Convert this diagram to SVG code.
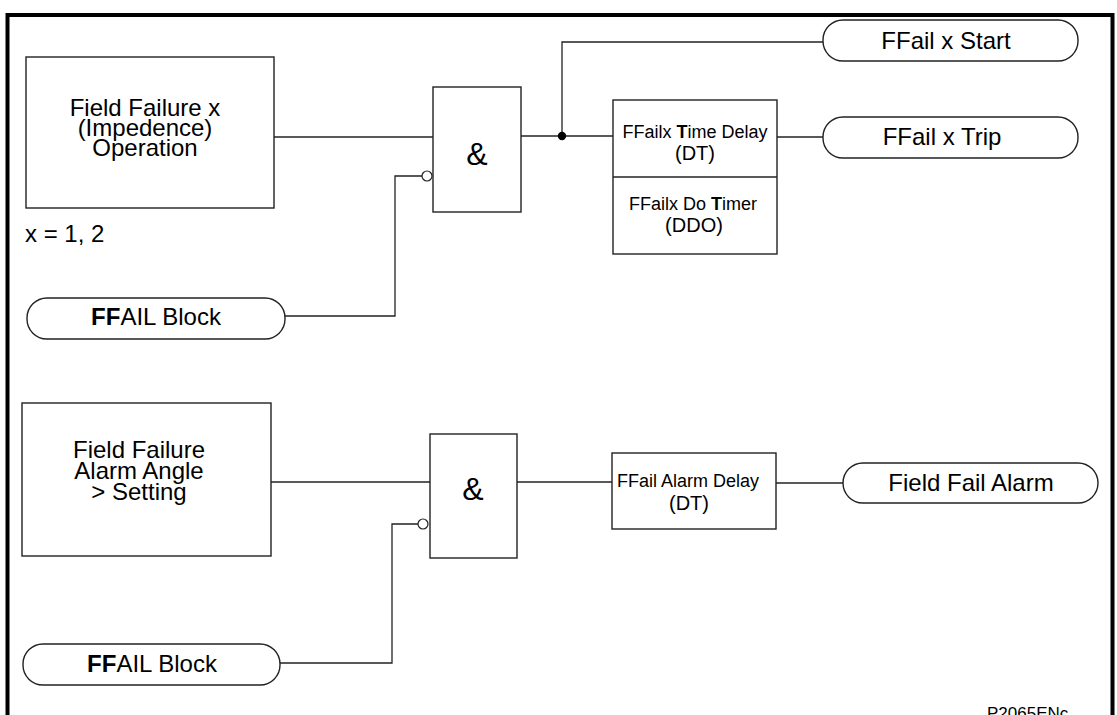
<svg xmlns="http://www.w3.org/2000/svg" width="1117" height="715" viewBox="0 0 1117 715">
<style>
.t{font-family:"Liberation Sans",Arial,sans-serif;fill:#000}
.b{fill:#fff;stroke:#222;stroke-width:1.4}
.c{fill:none;stroke:#222;stroke-width:1.3}
.n{fill:#fff;stroke:#222;stroke-width:1.2}
.bo{font-weight:bold}
</style>
<rect width="1117" height="715" fill="#fff"/>
<path d="M7.5,720 V15 H1112.5 V720" fill="none" stroke="#000" stroke-width="4"/>
<g id="connectors">
<path class="c" d="M274,137 H433"/>
<path class="c" d="M285,316 H395 V176 H422"/>
<path class="c" d="M521,136 H613"/>
<path class="c" d="M562,136 V42 H823"/>
<path class="c" d="M777,137 H823"/>
<circle cx="562" cy="136" r="4.2" fill="#000"/>
<path class="c" d="M271,482 H430"/>
<path class="c" d="M280,663 H392 V524 H418"/>
<path class="c" d="M517,482 H612"/>
<path class="c" d="M776,483 H843"/>
</g>
<g id="ffx-op">
<rect class="b" x="26" y="57" width="248" height="151"/>
<text class="t" font-size="24" text-anchor="middle"><tspan x="145" y="116">Field Failure x</tspan><tspan x="145" y="136">(Impedence)</tspan><tspan x="145" y="156">Operation</tspan></text>
</g>
<g id="xlabel"><text class="t" x="25" y="242" font-size="24">x = 1, 2</text></g>
<g id="ffail-block-1">
<rect class="b" x="27" y="298" width="258" height="41" rx="20" ry="20"/>
<text class="t" x="156" y="325" font-size="24" text-anchor="middle"><tspan class="bo">FF</tspan>AIL Block</text>
</g>
<g id="and1">
<rect class="b" x="433" y="87" width="88" height="125"/>
<circle class="n" cx="427" cy="176" r="5"/>
<text class="t" x="477" y="165" font-size="32" text-anchor="middle">&amp;</text>
</g>
<g id="timer1">
<rect class="b" x="613" y="100" width="164" height="154"/>
<path class="c" d="M613,177 H777"/>
<text class="t" x="695" y="138" font-size="18" text-anchor="middle">FFailx <tspan class="bo">T</tspan>ime Delay</text>
<text class="t" x="695" y="160" font-size="20" text-anchor="middle">(DT)</text>
<text class="t" x="693" y="210" font-size="18" text-anchor="middle">FFailx Do <tspan class="bo">T</tspan>imer</text>
<text class="t" x="694" y="232" font-size="20" text-anchor="middle">(DDO)</text>
</g>
<g id="ffx-start">
<rect class="b" x="823" y="20" width="255" height="41" rx="20" ry="20"/>
<text class="t" x="946" y="49" font-size="24" text-anchor="middle">FFail x Start</text>
</g>
<g id="ffx-trip">
<rect class="b" x="823" y="117" width="255" height="41" rx="20" ry="20"/>
<text class="t" x="942" y="145" font-size="24" text-anchor="middle">FFail x Trip</text>
</g>
<g id="ff-alarm-angle">
<rect class="b" x="22" y="403" width="249" height="153"/>
<text class="t" font-size="24" text-anchor="middle"><tspan x="139" y="458">Field Failure</tspan><tspan x="139" y="479">Alarm Angle</tspan><tspan x="139" y="500">&gt; Setting</tspan></text>
</g>
<g id="ffail-block-2">
<rect class="b" x="23" y="644" width="257" height="41" rx="20" ry="20"/>
<text class="t" x="152" y="672" font-size="24" text-anchor="middle"><tspan class="bo">FF</tspan>AIL Block</text>
</g>
<g id="and2">
<rect class="b" x="430" y="434" width="87" height="124"/>
<circle class="n" cx="423" cy="524" r="5"/>
<text class="t" x="473" y="500" font-size="32" text-anchor="middle">&amp;</text>
</g>
<g id="timer2">
<rect class="b" x="612" y="453" width="164" height="76"/>
<text class="t" x="688" y="487" font-size="18" text-anchor="middle">FFail Alarm Delay</text>
<text class="t" x="689" y="510" font-size="20" text-anchor="middle">(DT)</text>
</g>
<g id="ff-alarm">
<rect class="b" x="843" y="463" width="255" height="40" rx="20" ry="20"/>
<text class="t" x="971" y="491" font-size="24" text-anchor="middle">Field Fail Alarm</text>
</g>
<g id="ref"><text class="t" x="987" y="719" font-size="17">P2065ENc</text></g>
</svg>
